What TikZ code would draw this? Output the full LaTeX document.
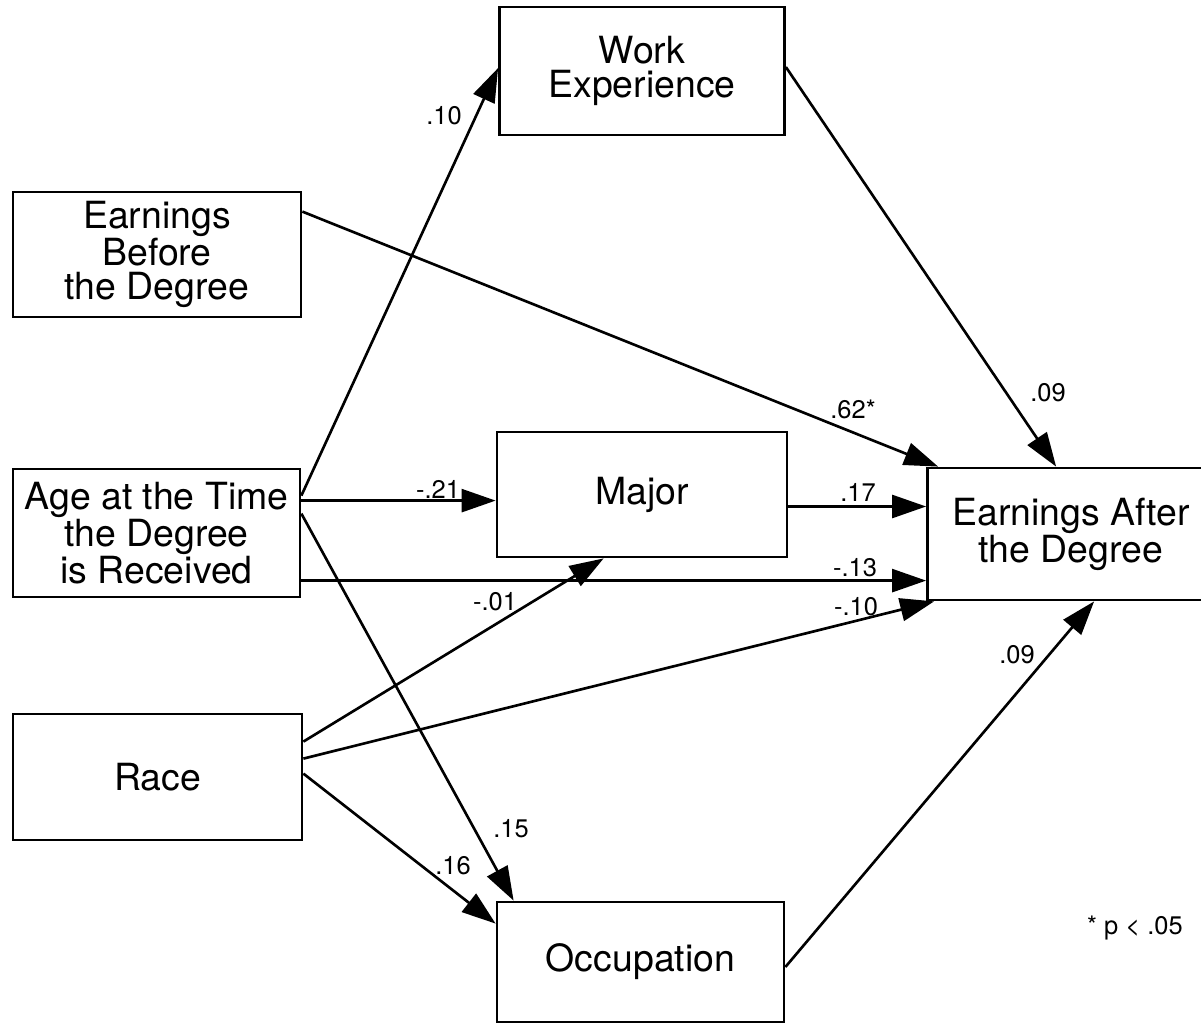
\documentclass[tikz,border=0pt]{standalone}
\usepackage{fontspec}
\setmainfont{TeX Gyre Heros}
\usetikzlibrary{arrows.meta,calc}
\begin{document}
\begin{tikzpicture}[x=0.02cm,y=-0.02cm,
  box/.style={draw,line width=1.6pt,align=center,inner sep=0pt,
    font=\fontsize{21.3}{19.6}\selectfont},
  conn/.style={line width=1.5pt,-{Triangle[length=0.68cm,width=0.46cm]}},
  lbl/.style={font=\fontsize{14.5}{16}\selectfont,inner sep=0pt}]
\clip (0,0) rectangle (1201,1024);
\useasboundingbox (0,0) rectangle (1201,1024);
\fill[white] (0,0) rectangle (1201,1024);

\node[box,minimum width=5.7cm,minimum height=2.56cm] (wexp) at (642,71) {Work\\Experience};
\node[box,minimum width=5.76cm,minimum height=2.5cm] (ebef) at (157,254.5) {Earnings\\Before\\the Degree};
\node[box,minimum width=5.74cm,minimum height=2.56cm] (age) at (156.5,533) {Age at the Time\\the Degree\\is Received};
\node[box,minimum width=5.8cm,minimum height=2.5cm] (major) at (642,494.5) {Major};
\node[box,minimum width=5.74cm,minimum height=2.64cm] (eaft) at (1071,534) {Earnings After\\the Degree};
\node[box,minimum width=5.78cm,minimum height=2.52cm] (race) at (157.5,777) {Race};
\node[box,minimum width=5.74cm,minimum height=2.4cm] (occ) at (640.5,962) {Occupation};

\draw[conn] ($(age.north east)+(0,28)$) -- ($(wexp.west)+(0,-3)$);
\draw[conn] ($(ebef.north east)+(0,21)$) -- ($(eaft.north west)+(12,0)$);
\draw[conn] ($(wexp.east)+(0,-4)$) -- ($(eaft.north west)+(130,0)$);
\draw[conn] ($(age.north east)+(0,33)$) coordinate (a2) -- (a2 -| major.west);
\draw[conn] ($(major.east)+(0,12)$) coordinate (m1) -- (m1 -| eaft.west);
\draw[conn] ($(age.north east)+(0,113)$) coordinate (a3) -- (a3 -| eaft.west);
\draw[conn] ($(race.north east)+(0,29)$) -- ($(major.south west)+(108,0)$);
\draw[conn] ($(race.north east)+(0,46)$) -- ($(eaft.south west)+(8,0)$);
\draw[conn] ($(age.north east)+(0,46)$) -- ($(occ.north west)+(18,0)$);
\draw[conn] ($(race.north east)+(0,61)$) -- ($(occ.north west)+(0,23)$);
\draw[conn] ($(occ.east)+(0,5)$) -- ($(eaft.south west)+(168,0)$);

\node[lbl] (l1) at (444,116) {.10};
\node[lbl] (l2) at (853,409) {.62*};
\node[lbl] (l3) at (1048,393) {.09};
\node[lbl] (l4) at (438,489) {-.21};
\node[lbl] (l5) at (858,492) {.17};
\node[lbl] (l6) at (855,568) {-.13};
\node[lbl] (l7) at (495,602) {-.01};
\node[lbl] (l8) at (856,607) {-.10};
\node[lbl] (l9) at (511,829) {.15};
\node[lbl] (l10) at (453,866) {.16};
\node[lbl] (l11) at (1017,655) {.09};
\node[lbl] (note) at (1135,928) {* p < .05};
\end{tikzpicture}
\end{document}
